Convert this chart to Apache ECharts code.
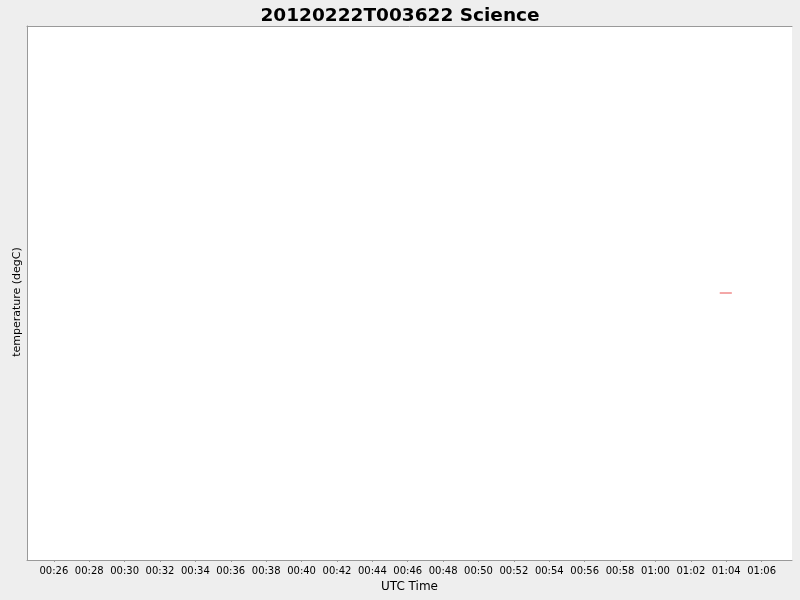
<!DOCTYPE html>
<html>
<head>
<meta charset="utf-8">
<script src="https://cdn.jsdelivr.net/npm/echarts@6/dist/echarts.min.js"></script>
<style>
  html, body { margin: 0; padding: 0; background: #eeeeee; }
  #chart { width: 800px; height: 600px; }
</style>
</head>
<body>
<div id="chart"></div>
<script>
// data (UTC, 2012-02-22)
var times = ['01:03:38', '01:04:19'];
var temps = [0, 0];
var xRange = ['00:24:29', '01:07:43'];
var tickLabels = ['00:26', '00:28', '00:30', '00:32', '00:34', '00:36', '00:38', '00:40',
  '00:42', '00:44', '00:46', '00:48', '00:50', '00:52', '00:54', '00:56', '00:58',
  '01:00', '01:02', '01:04', '01:06'];

// seconds since midnight UTC
function secs(s) {
  var p = s.split(':');
  return (+p[0]) * 3600 + (+p[1]) * 60 + (+(p[2] || 0));
}
var tickValues = tickLabels.map(secs);
var points = times.map(function (t, i) { return [secs(t), temps[i]]; });

var chart = echarts.init(document.getElementById('chart'));
var font = 'DejaVu Sans';
chart.setOption({
  backgroundColor: '#eeeeee',
  animation: false,
  title: {
    text: '20120222T003622 Science',
    left: 'center',
    top: 2,
    textStyle: { fontFamily: font, fontSize: 18.5, fontWeight: 'bold', color: '#000' }
  },
  grid: { left: 27, top: 26, right: 8, bottom: 40, show: true, backgroundColor: '#fff', borderWidth: 0 },
  xAxis: [{
    type: 'value',
    min: secs(xRange[0]),
    max: secs(xRange[1]),
    name: 'UTC Time',
    nameLocation: 'middle',
    nameGap: 20,
    nameTextStyle: { fontFamily: font, fontSize: 12, color: '#000' },
    axisLine: { onZero: false, lineStyle: { color: '#999', width: 1 } },
    axisTick: { show: true, length: 2, customValues: tickValues, lineStyle: { color: '#999' } },
    axisLabel: {
      fontFamily: font, fontSize: 10, color: '#000', margin: 6,
      customValues: tickValues,
      formatter: function (v) { return tickLabels[tickValues.indexOf(v)] || ''; },
      hideOverlap: false
    },
    splitLine: { show: false }
  }, {
    type: 'value',
    position: 'top',
    min: secs(xRange[0]),
    max: secs(xRange[1]),
    axisLine: { show: true, onZero: false, lineStyle: { color: '#999', width: 1 } },
    axisTick: { show: false },
    axisLabel: { show: false },
    splitLine: { show: false }
  }],
  yAxis: {
    type: 'value',
    min: -1,
    max: 1,
    name: 'temperature (degC)',
    nameLocation: 'middle',
    nameGap: 4,
    nameTextStyle: { fontFamily: font, fontSize: 11, color: '#000', padding: [0, 18, 0, 0] },
    axisLine: { show: true, onZero: false, lineStyle: { color: '#999', width: 1 } },
    axisTick: { show: false },
    axisLabel: { show: false },
    splitLine: { show: false }
  },
  series: [{
    type: 'line',
    data: points,
    showSymbol: false,
    lineStyle: { color: '#e85050', width: 1 },
    itemStyle: { color: '#e85050' }
  }]
});
</script>
</body>
</html>
